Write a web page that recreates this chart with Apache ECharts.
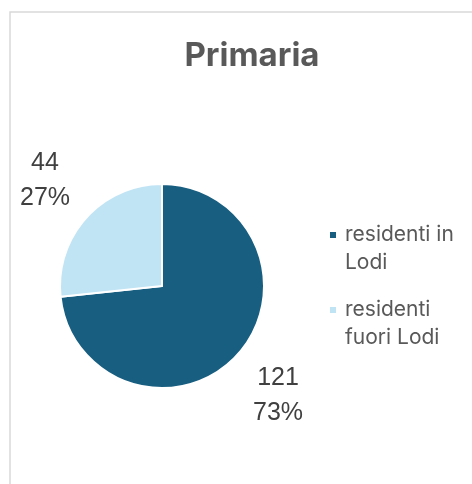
<!DOCTYPE html>
<html>
<head>
<meta charset="utf-8">
<script src="https://cdn.jsdelivr.net/npm/echarts@6/dist/echarts.min.js"></script>
<style>
html,body{margin:0;padding:0;background:#fff;}
#chart{width:472px;height:484px;}
</style>
</head>
<body>
<div id="chart"></div>
<script>
var titleText = 'Primaria';
var categories = ['residenti in Lodi', 'residenti fuori Lodi'];
var legendLabels = ['residenti in\nLodi', 'residenti\nfuori Lodi'];
var values = [121, 44];
var colors = ['#175e80', '#c1e4f5'];
var labelSpots = [[278, 396], [45, 181]];

var chart = echarts.init(document.getElementById('chart'), null, {renderer: 'canvas'});
var data = categories.map(function (c, i) {
  return {name: c, value: values[i], itemStyle: {color: colors[i]}};
});
var legendMap = {};
categories.forEach(function (c, i) { legendMap[c] = legendLabels[i]; });

chart.setOption({
  animation: false,
  backgroundColor: '#ffffff',
  graphic: [{
    type: 'rect',
    shape: {x: 10, y: 12, width: 600, height: 600},
    style: {fill: 'none', stroke: '#d9d9d9', lineWidth: 1.5},
    silent: true,
    z: -1
  }],
  title: {
    text: titleText,
    left: 247,
    top: 35,
    textAlign: 'center',
    textStyle: {fontFamily: 'Inter', fontWeight: 'bold', fontSize: 33, color: '#595959'}
  },
  legend: {
    orient: 'vertical',
    left: 328,
    top: 193,
    padding: 0,
    itemGap: -9,
    itemWidth: 8,
    itemHeight: 8,
    icon: 'rect',
    data: categories,
    formatter: function (n) { return ' \n' + legendMap[n]; },
    textStyle: {fontFamily: 'Inter', fontSize: 21, color: '#595959', lineHeight: 28, padding: [0, 0, 0, 3]}
  },
  series: [{
    type: 'pie',
    center: [162, 286],
    radius: [0, 102],
    startAngle: 90,
    clockwise: true,
    percentPrecision: 0,
    data: data,
    itemStyle: {borderColor: '#ffffff', borderWidth: 2},
    label: {
      show: true,
      formatter: '{c}\n{d}%',
      fontFamily: 'Liberation Sans',
      fontSize: 25,
      lineHeight: 35,
      color: '#404040',
      align: 'center',
      overflow: 'none',
      width: 100
    },
    labelLine: {show: false},
    labelLayout: function (p) {
      var s = labelSpots[p.dataIndex];
      return {x: s[0], y: s[1], align: 'center', verticalAlign: 'middle'};
    },
    emphasis: {disabled: true}
  }]
});
</script>
</body>
</html>
